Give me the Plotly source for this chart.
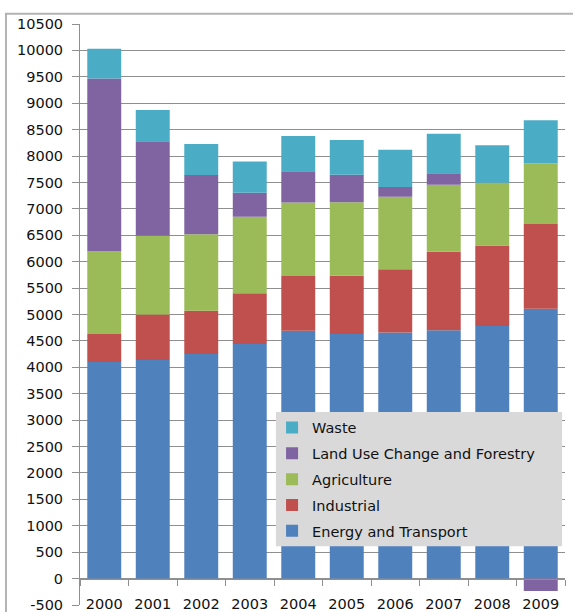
import plotly.graph_objects as go

# Greenhouse gas emissions by sector, 2000-2009
years = ["2000", "2001", "2002", "2003", "2004", "2005", "2006", "2007", "2008", "2009"]
energy_transport = [4100, 4140, 4250, 4440, 4690, 4630, 4660, 4700, 4780, 5110]
industrial = [530, 860, 820, 960, 1040, 1105, 1195, 1490, 1525, 1605]
agriculture = [1570, 1490, 1450, 1450, 1390, 1390, 1375, 1265, 1190, 1150]
land_use = [3270, 1790, 1120, 455, 590, 520, 185, 220, 0, -235]
waste = [560, 590, 590, 590, 670, 660, 705, 745, 710, 815]

y_ticks = list(range(-500, 10501, 500))
y_tick_labels = [str(v) for v in y_ticks]

series = [
    ("Energy and Transport", energy_transport, "#4F81BD"),
    ("Industrial", industrial, "#C0504D"),
    ("Agriculture", agriculture, "#9BBB59"),
    ("Land Use Change and Forestry", land_use, "#8064A2"),
    ("Waste", waste, "#4BACC6"),
]

FONT = "DejaVu Sans"
GRID = "#8f8f8f"
TEXT = "#111111"
y_min, y_max = y_ticks[0], y_ticks[-1]
zero_frac = (0 - y_min) / (y_max - y_min)

fig = go.Figure()
for i, (name, vals, color) in enumerate(series):
    fig.add_trace(go.Bar(
        x=years, y=vals, name=name,
        legendgroup=f"g{i}", legendrank=len(series) - i,  # top of stack listed first
        marker=dict(color=color, line=dict(width=0)),
    ))

# empty trace that brings the zero-line category axis (x2/y2) into being
fig.add_trace(go.Scatter(x=[], y=[], xaxis="x2", yaxis="y2",
                         showlegend=False, hoverinfo="skip"))

fig.update_layout(
    width=573, height=612,
    margin=dict(l=80, r=8, t=24, b=7),
    paper_bgcolor="white",
    plot_bgcolor="rgba(0,0,0,0)",
    barmode="relative",
    bargap=0.3,
    font=dict(family=FONT, size=14, color=TEXT),
    xaxis=dict(
        type="category", domain=[0, 1], range=[-0.5, len(years) - 0.5],
        showticklabels=False, showgrid=False, showline=False, zeroline=False,
        ticks="", automargin=False,
    ),
    yaxis=dict(
        range=[y_min, y_max], tickvals=y_ticks, ticktext=y_tick_labels,
        showgrid=True, gridcolor=GRID, gridwidth=1,
        showline=True, linecolor=GRID, linewidth=1,
        ticks="outside", ticklen=7, tickcolor=GRID,
        zeroline=False, automargin=False,
        tickfont=dict(family=FONT, size=14.5, color=TEXT),
        ticklabelstandoff=6, ticklabeloverflow="allow",
    ),
    # category axis drawn along the zero line
    yaxis2=dict(domain=[zero_frac, 1], range=[0, 1], anchor="x2",
                showticklabels=False, showgrid=False, showline=False,
                zeroline=False, ticks=""),
    xaxis2=dict(
        anchor="y2", domain=[0, 1], range=[-0.5, len(years) - 0.5],
        tickvals=list(range(len(years))), ticktext=years,
        showline=True, linecolor=GRID, linewidth=1,
        showgrid=False, zeroline=False, ticks="", automargin=False,
        minor=dict(tick0=-0.5, dtick=1, ticks="outside", ticklen=6,
                   tickcolor=GRID, showgrid=False),
        tickfont=dict(family=FONT, size=14.5, color=TEXT),
        ticklabelstandoff=12, ticklabeloverflow="allow",
    ),
    legend=dict(
        x=0.396, y=0.333, xanchor="left", yanchor="top",
        bgcolor="rgba(0,0,0,0)", borderwidth=0,
        traceorder="grouped", tracegroupgap=4,
        font=dict(family=FONT, size=14.5, color=TEXT),
    ),
    showlegend=True,
)

# outer chart-area frame
fig.add_shape(
    type="rect", xref="paper", yref="paper",
    x0=-0.1526, x1=1.03, y0=-0.03, y1=1.0178,
    line=dict(color="#b3b3b3", width=2), fillcolor="rgba(0,0,0,0)",
    layer="below",
)
# grey panel behind the legend
fig.add_shape(
    type="rect", xref="paper", yref="paper",
    x0=0.404, x1=0.994, y0=0.101, y1=0.332,
    line=dict(width=0), fillcolor="#d9d9d9", layer="above",
)

fig.write_html("out.html")
